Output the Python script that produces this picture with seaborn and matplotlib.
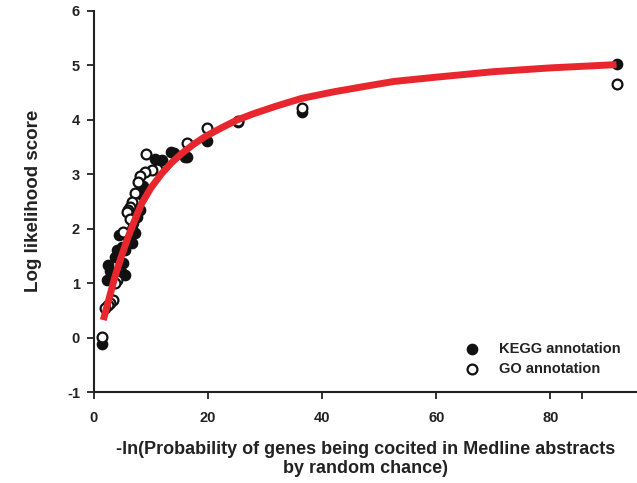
import matplotlib
matplotlib.use("Agg")
import matplotlib.pyplot as plt
import seaborn as sns
import pandas as pd

# KEGG annotation (filled)
kegg_x = [91.7, 36.5, 25.3, 19.75, 16.25, 14.1, 16.0, 13.5, 10.7, 11.9,
          8.6, 8.4, 8.1, 7.5, 6.9, 6.6, 7.2, 4.3, 6.0, 6.6, 4.0, 5.4, 4.9,
          3.7, 5.1, 2.5, 2.8, 5.4, 4.9, 2.2, 1.35]
kegg_y = [5.02, 4.14, 3.95, 3.61, 3.31, 3.38, 3.32, 3.41, 3.27, 3.25,
          2.78, 2.62, 2.34, 2.22, 2.10, 2.00, 1.91, 1.88, 1.85, 1.73, 1.61, 1.61, 1.67,
          1.48, 1.36, 1.33, 1.22, 1.15, 1.18, 1.06, -0.12]

# GO annotation (open)
go_x = [91.7, 36.5, 25.3, 19.75, 16.25, 9.2, 11.0, 10.1, 8.9, 8.1, 7.8,
        7.2, 6.6, 6.3, 6.0, 5.7, 6.3, 5.1, 4.0, 3.7, 3.4, 2.8, 2.5, 1.9, 1.35]
go_y = [4.65, 4.21, 3.97, 3.84, 3.58, 3.37, 3.10, 3.07, 3.04, 2.97, 2.85,
        2.65, 2.49, 2.40, 2.34, 2.31, 2.18, 1.94, 1.06, 1.00, 0.68, 0.63, 0.60, 0.55, 0.01]

# fitted curve
fit_x = [1.63, 2.5, 3.68, 4.8, 6.0, 7.2, 8.36, 10.0, 11.87, 13.6, 15.4, 17.5,
         19.5, 22.0, 25.0, 28.0, 32.0, 36.4, 42.0, 48.0, 52.5, 60.0, 70.0, 80.0, 91.6]
fit_y = [0.32, 0.66, 1.12, 1.49, 1.85, 2.17, 2.46, 2.75, 3.01, 3.21, 3.38, 3.55,
         3.69, 3.83, 3.99, 4.11, 4.25, 4.39, 4.51, 4.62, 4.70, 4.78, 4.88, 4.95, 5.01]

xticks = [0, 20, 40, 60, 80]
yticks = [-1, 0, 1, 2, 3, 4, 5, 6]

sns.set_style("ticks")
plt.rcParams['font.family'] = ['Liberation Sans', 'DejaVu Sans']
plt.rcParams['font.weight'] = 'bold'

fig = plt.figure(figsize=(6.37, 4.83), dpi=100)
ax = fig.add_axes([94 / 637, (483 - 392) / 483, 1 - 94 / 637, (392 - 10.7) / 483])

kegg = pd.DataFrame({"x": kegg_x, "y": kegg_y})
go = pd.DataFrame({"x": go_x, "y": go_y})
fit = pd.DataFrame({"x": fit_x, "y": fit_y})

sns.scatterplot(data=kegg, x="x", y="y", ax=ax, s=55, color="#111111",
                edgecolor="#111111", linewidth=1.0, label="KEGG annotation", zorder=3)
sns.scatterplot(data=go, x="x", y="y", ax=ax, s=50, color="white",
                edgecolor="#111111", linewidth=1.6, label="GO annotation", zorder=4)
sns.lineplot(data=fit, x="x", y="y", ax=ax, color="#E8262E", linewidth=5.0,
             zorder=5, legend=False, solid_capstyle="butt", solid_joinstyle="round")

ax.set_xlim(0, 95.2)
ax.set_ylim(-1, 6)
ax.set_xticks(xticks + [85.5])
ax.set_xticklabels([str(t) for t in xticks] + [""])
ax.set_yticks(yticks)
ax.set_yticklabels([str(t) for t in yticks])
ax.tick_params(direction="out", length=5, width=1.3, labelsize=10.5, colors="#222222", pad=5)
ax.tick_params(axis="x", pad=9)
for lab in ax.get_xticklabels() + ax.get_yticklabels():
    lab.set_fontweight("bold")

for side in ["top", "right"]:
    ax.spines[side].set_visible(False)
for side in ["left", "bottom"]:
    ax.spines[side].set_linewidth(1.5)
    ax.spines[side].set_color("#222222")

ax.set_xlabel("-ln(Probability of genes being cocited in Medline abstracts\nby random chance)",
              fontsize=13, fontweight="bold", labelpad=11, linespacing=1.15, color="#222222")
ax.set_ylabel("Log likelihood score", fontsize=13.5, fontweight="bold", labelpad=18,
              color="#222222")

leg = ax.legend(loc="upper left", bbox_to_anchor=(0.672, 0.147), frameon=False,
                fontsize=10.5, handletextpad=1.35, labelspacing=0.4, borderaxespad=0,
                handlelength=1.0)
for t in leg.get_texts():
    t.set_fontweight("bold")
    t.set_color("#222222")

fig.savefig("out.png", dpi=100)
